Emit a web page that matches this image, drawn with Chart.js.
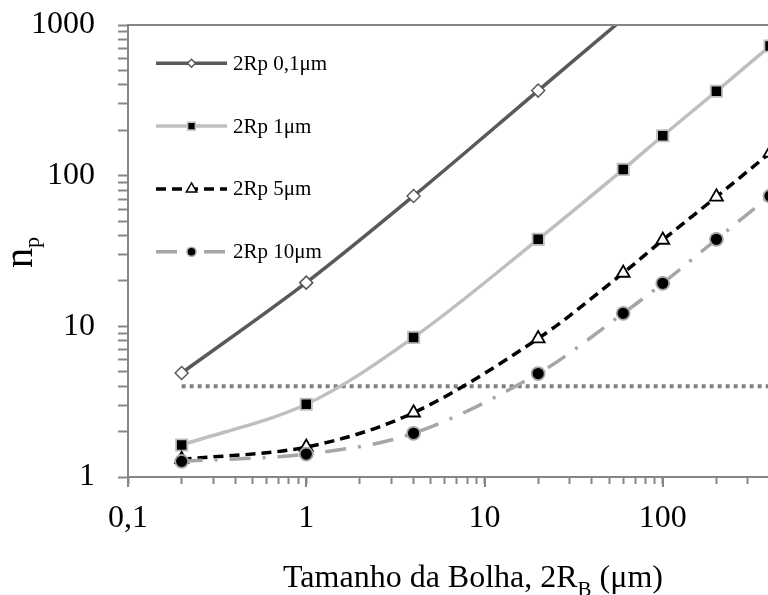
<!DOCTYPE html>
<html>
<head>
<meta charset="utf-8">
<script src="https://cdn.jsdelivr.net/npm/chart.js@4.4.1/dist/chart.umd.min.js"></script>
<style>
  html, body { margin: 0; padding: 0; background: #ffffff; overflow: hidden; width: 768px; height: 595px; }
  canvas { display: block; position: absolute; left: 0; top: 0; }
</style>
</head>
<body>
<canvas id="chart" width="900" height="595"></canvas>
<script>
// Bubble size 2R_B (µm) and number of particles n_p for each particle size
const bubbleSizes = [0.2, 1, 4, 20, 60, 100, 200, 400];
const npRp01 = [4.9, 19.5, 73.3, 367, 1100];
const npRp1  = [1.63, 3.04, 8.44, 37.8, 110, 184, 363, 725];
const npRp5  = [1.31, 1.58, 2.67, 8.3, 22.6, 37.4, 72.4, 141.6];
const npRp10 = [1.27, 1.42, 1.95, 4.86, 12.2, 19.3, 37.8, 73.3];
const seriesNames = ['2Rp 0,1μm', '2Rp 1μm', '2Rp 5μm', '2Rp 10μm'];

// Horizontal reference level n_p = 4
const thresholdX = [0.2, 1000];
const thresholdY = [4, 4];

// Axis ticks
const xMajorTicks = [0.1, 1, 10, 100, 1000];
const xTickLabels = ['0,1', '1', '10', '100', '1000'];
const yMajorTicks = [1, 10, 100, 1000];
const yTickLabels = ['1', '10', '100', '1000'];
const minorMultipliers = [2, 3, 4, 5, 6, 7, 8, 9];

const Y_MAX = 1000;
const AXIS_COLOR = '#868686';
const SERIF = '"Liberation Serif", "Times New Roman", serif';

function toPoints(xs, ys) {
  const pts = [];
  for (let i = 0; i < ys.length; i++) pts.push({ x: xs[i], y: ys[i] });
  return pts;
}

function logTicks(majors) {
  const out = [];
  majors.forEach((m, i) => {
    out.push({ value: m, major: true });
    if (i < majors.length - 1) {
      minorMultipliers.forEach(k => out.push({ value: +(m * k).toPrecision(6), major: false }));
    }
  });
  return out;
}

function labelFor(value, majors, labels) {
  for (let i = 0; i < majors.length; i++) {
    if (Math.abs(Math.log10(value) - Math.log10(majors[i])) < 1e-6) return labels[i];
  }
  return '';
}

// keep the plot area fixed: no extra room reserved for overhanging tick labels
function noScalePadding(s) {
  s.paddingTop = 0; s.paddingBottom = 0; s.paddingLeft = 0; s.paddingRight = 0;
}

// markers are only shown for points inside the plotted range
function markerRadius(r) {
  return c => (c.raw && c.raw.y > Y_MAX ? 0 : r);
}

const common = { borderWidth: 3.5, borderJoinStyle: 'round', borderCapStyle: 'butt', fill: false, tension: 0.33, clip: 0, pointHoverRadius: 0 };

const datasets = [
  Object.assign({}, common, {
    label: seriesNames[0], data: toPoints(bubbleSizes, npRp01), order: 3,
    borderColor: '#595959',
    pointStyle: 'rectRot', pointRadius: markerRadius(6.5), pointBackgroundColor: '#ffffff',
    pointBorderColor: '#595959', pointBorderWidth: 1.5,
    legendMarkerRadius: 4
  }),
  Object.assign({}, common, {
    label: seriesNames[1], data: toPoints(bubbleSizes, npRp1), order: 2,
    borderColor: '#bfbfbf',
    pointStyle: 'rect', pointRadius: markerRadius(8), pointBackgroundColor: '#000000',
    pointBorderColor: '#bfbfbf', pointBorderWidth: 1.8,
    legendMarkerRadius: 5.5
  }),
  Object.assign({}, common, {
    label: seriesNames[2], data: toPoints(bubbleSizes, npRp5), order: 1,
    borderColor: '#000000', borderDash: [10, 6],
    pointStyle: 'triangle', pointRadius: markerRadius(7.5), pointBackgroundColor: '#ffffff',
    pointBorderColor: '#000000', pointBorderWidth: 1.8,
    legendMarkerRadius: 6
  }),
  Object.assign({}, common, {
    label: seriesNames[3], data: toPoints(bubbleSizes, npRp10), order: 0,
    borderColor: '#a6a6a6', borderDash: [21, 12, 3, 12],
    pointStyle: 'circle', pointRadius: markerRadius(6.5), pointBackgroundColor: '#000000',
    pointBorderColor: '#a6a6a6', pointBorderWidth: 1.8,
    legendMarkerRadius: 4.5
  }),
  {
    label: 'n_p = 4', data: toPoints(thresholdX, thresholdY), order: 4,
    borderColor: '#808080', borderWidth: 4, borderDash: [4, 4], borderCapStyle: 'butt',
    pointRadius: 0, pointHoverRadius: 0, tension: 0, fill: false, clip: 0,
    inLegend: false
  }
];

// Frame line along the top of the plot area
const topFrame = {
  id: 'topFrame',
  afterDatasetsDraw(chart) {
    const { ctx, chartArea } = chart;
    ctx.save();
    ctx.strokeStyle = AXIS_COLOR;
    ctx.lineWidth = 2;
    ctx.beginPath();
    ctx.moveTo(chartArea.left - 1, chartArea.top);
    ctx.lineTo(chartArea.right, chartArea.top);
    ctx.stroke();
    ctx.restore();
  }
};

// Longer tick marks at each decade of the x axis
const decadeTicks = {
  id: 'decadeTicks',
  afterDraw(chart) {
    const { ctx } = chart;
    const xs = chart.scales.x;
    ctx.save();
    ctx.strokeStyle = AXIS_COLOR;
    ctx.lineWidth = 2;
    xMajorTicks.forEach(v => {
      const px = Math.round(xs.getPixelForValue(v));
      ctx.beginPath();
      ctx.moveTo(px, xs.top);
      ctx.lineTo(px, xs.top + 10);
      ctx.stroke();
    });
    ctx.restore();
  }
};

// Legend inside the plot: line sample with the marker in the middle
const insideLegend = {
  id: 'insideLegend',
  afterDraw(chart) {
    const { ctx, chartArea } = chart;
    const x0 = chartArea.left + 28, x1 = chartArea.left + 99, xm = (x0 + x1) / 2;
    let row = 0;
    chart.data.datasets.forEach(ds => {
      if (ds.inLegend === false) return;
      const y = chartArea.top + 38.3 + row * 62.8;
      row++;
      ctx.save();
      ctx.strokeStyle = ds.borderColor;
      ctx.lineWidth = ds.borderWidth;
      ctx.lineCap = 'butt';
      ctx.setLineDash(ds.borderDash || []);
      ctx.beginPath();
      ctx.moveTo(x0, y);
      ctx.lineTo(x1, y);
      ctx.stroke();
      ctx.setLineDash([]);
      ctx.fillStyle = ds.pointBackgroundColor;
      ctx.strokeStyle = ds.pointBorderColor;
      ctx.lineWidth = 1.5;
      Chart.helpers.drawPoint(ctx, {
        pointStyle: ds.pointStyle, rotation: 0,
        radius: ds.legendMarkerRadius, borderWidth: 1.5
      }, xm, y);
      ctx.fillStyle = '#000000';
      ctx.font = '21px ' + SERIF;
      ctx.textAlign = 'left';
      ctx.textBaseline = 'middle';
      ctx.fillText(ds.label, x1 + 6, y + 1);
      ctx.restore();
    });
  }
};

// Axis titles with subscripts
const axisTitles = {
  id: 'axisTitles',
  afterDraw(chart) {
    const { ctx } = chart;
    ctx.save();
    ctx.fillStyle = '#000000';
    ctx.textBaseline = 'alphabetic';
    ctx.textAlign = 'left';

    // x title: Tamanho da Bolha, 2R_B (µm)
    const mainFont = '32px ' + SERIF, subFont = '21px ' + SERIF;
    const p1 = 'Tamanho da Bolha, 2R', sub = 'B', p2 = ' (μm)';
    ctx.font = mainFont; const w1 = ctx.measureText(p1).width, w3 = ctx.measureText(p2).width;
    ctx.font = subFont; const w2 = ctx.measureText(sub).width;
    const total = w1 + w2 + w3;
    const cx = 473, base = 587;
    let x = cx - total / 2;
    ctx.font = mainFont; ctx.fillText(p1, x, base); x += w1;
    ctx.font = subFont; ctx.fillText(sub, x, base + 9); x += w2;
    ctx.font = mainFont; ctx.fillText(p2, x, base);

    // y title: n_p, rotated
    ctx.translate(32, 268);
    ctx.rotate(-Math.PI / 2);
    ctx.font = '40px ' + SERIF;
    ctx.fillText('n', 0, 0);
    const wn = ctx.measureText('n').width;
    ctx.font = '22px ' + SERIF;
    ctx.fillText('p', wn, 7);
    ctx.restore();
  }
};

new Chart(document.getElementById('chart'), {
  type: 'line',
  data: { datasets },
  options: {
    responsive: false,
    maintainAspectRatio: false,
    devicePixelRatio: 1,
    animation: false,
    events: [],
    layout: { padding: { top: 25, right: 59, left: 0, bottom: 0 }, autoPadding: false },
    plugins: { legend: { display: false }, tooltip: { enabled: false }, title: { display: false } },
    scales: {
      x: {
        type: 'logarithmic', position: 'bottom', min: 0.1, max: 1000,
        afterBuildTicks: s => { s.ticks = logTicks(xMajorTicks); },
        afterFit: s => { s.height = 118; noScalePadding(s); },
        ticks: {
          autoSkip: false, maxRotation: 0, minRotation: 0, padding: 15, color: '#000000',
          font: { family: SERIF, size: 32 },
          callback: v => labelFor(v, xMajorTicks, xTickLabels)
        },
        grid: { display: true, drawOnChartArea: false, drawTicks: true, tickLength: 7, tickColor: AXIS_COLOR, tickWidth: 2, color: AXIS_COLOR },
        border: { display: true, color: AXIS_COLOR, width: 2 }
      },
      y: {
        type: 'logarithmic', position: 'left', min: 1, max: Y_MAX,
        afterBuildTicks: s => { s.ticks = logTicks(yMajorTicks); },
        afterFit: s => { s.width = 128; noScalePadding(s); },
        ticks: {
          autoSkip: false, padding: 23, color: '#000000',
          font: { family: SERIF, size: 32 },
          callback: v => labelFor(v, yMajorTicks, yTickLabels)
        },
        grid: { display: true, drawOnChartArea: false, drawTicks: true, tickLength: 10, tickColor: AXIS_COLOR, tickWidth: 2, color: AXIS_COLOR },
        border: { display: true, color: AXIS_COLOR, width: 2 }
      }
    }
  },
  plugins: [topFrame, decadeTicks, insideLegend, axisTitles]
});
</script>
</body>
</html>
